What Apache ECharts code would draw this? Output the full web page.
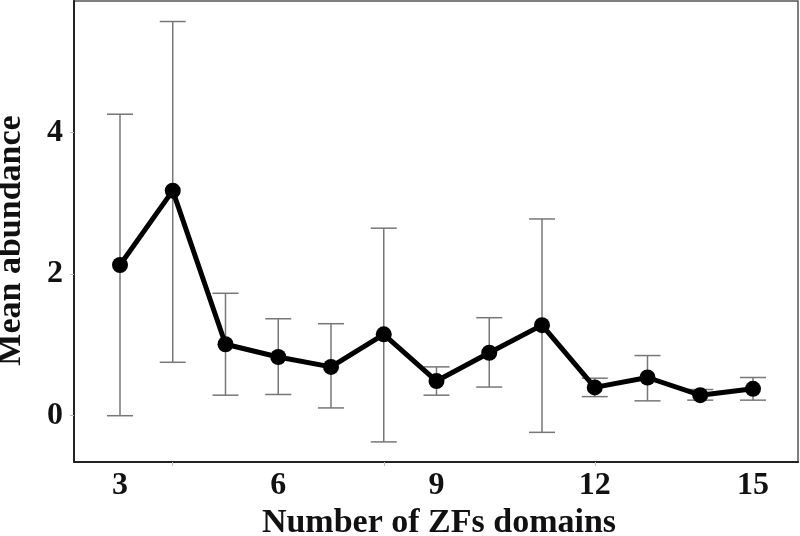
<!DOCTYPE html>
<html>
<head>
<meta charset="utf-8">
<script src="https://cdn.jsdelivr.net/npm/echarts@6/dist/echarts.min.js"></script>
<style>html,body{margin:0;padding:0;background:#fff}#c{width:800px;height:536px}</style>
</head>
<body>
<div id="c"></div>
<script>
const domains = [3, 4, 5, 6, 7, 8, 9, 10, 11, 12, 13, 14, 15];
const meanAbundance = [2.13, 3.18, 1.01, 0.83, 0.69, 1.15, 0.49, 0.89, 1.28, 0.40, 0.54, 0.29, 0.38];
const upperError = [4.26, 5.57, 1.73, 1.37, 1.30, 2.65, 0.69, 1.385, 2.78, 0.53, 0.85, 0.37, 0.54];
const lowerError = [0.0, 0.755, 0.29, 0.30, 0.11, -0.37, 0.29, 0.405, -0.235, 0.27, 0.21, 0.22, 0.22];
const xTickLabels = [3, 6, 9, 12, 15];
const xTickMarks = [4, 8, 12];
const yTickLabels = [0, 2, 4];

const chart = echarts.init(document.getElementById('c'));
const font = '"Liberation Serif", "Times New Roman", serif';
chart.setOption({
  animation: false,
  backgroundColor: '#fff',
  grid: { left: 74, top: 1, right: 2, bottom: 74, outerBoundsMode: 'none', containLabel: false, show: true, borderColor: '#555', borderWidth: 1.5 },
  xAxis: {
    type: 'value', min: 2.128, max: 15.853,
    name: 'Number of ZFs domains', nameLocation: 'middle', nameGap: 44, nameMoveOverlap: false,
    nameTextStyle: { fontFamily: font, fontWeight: 'bold', fontSize: 34, color: '#111', padding: [0, 0, 0, 6] },
    axisLine: { show: true, onZero: false, lineStyle: { color: '#222', width: 2 } },
    axisTick: { show: true, customValues: xTickMarks, length: 4, lineStyle: { color: '#bbb', width: 1 } },
    axisLabel: { customValues: xTickLabels, margin: 8, fontFamily: font, fontWeight: 'bold', fontSize: 32, color: '#111' },
    splitLine: { show: false }
  },
  yAxis: {
    type: 'value', min: -0.654, max: 5.86,
    name: 'Mean abundance', nameLocation: 'middle', nameGap: 46, nameMoveOverlap: false,
    nameTextStyle: { fontFamily: font, fontWeight: 'bold', fontSize: 34, color: '#111', padding: [0, 18, 0, 0] },
    axisLine: { show: true, onZero: false, lineStyle: { color: '#222', width: 2 } },
    axisTick: { show: true, customValues: yTickLabels, length: 4, lineStyle: { color: '#bbb', width: 1 } },
    axisLabel: { customValues: yTickLabels, margin: 11, fontFamily: font, fontWeight: 'bold', fontSize: 32, color: '#111' },
    splitLine: { show: false }
  },
  series: [
    {
      type: 'custom',
      data: domains.map((d, i) => [d, lowerError[i], upperError[i]]),
      renderItem: function (params, api) {
        const x = api.value(0);
        const lo = api.coord([x, api.value(1)]);
        const hi = api.coord([x, api.value(2)]);
        const hw = 13;
        const style = { stroke: '#777', lineWidth: 1.5, fill: null };
        return {
          type: 'group',
          children: [
            { type: 'line', shape: { x1: lo[0], y1: lo[1], x2: hi[0], y2: hi[1] }, style: style },
            { type: 'line', shape: { x1: lo[0] - hw, y1: lo[1], x2: lo[0] + hw, y2: lo[1] }, style: style },
            { type: 'line', shape: { x1: hi[0] - hw, y1: hi[1], x2: hi[0] + hw, y2: hi[1] }, style: style }
          ]
        };
      },
      z: 1
    },
    {
      type: 'line',
      data: domains.map((d, i) => [d, meanAbundance[i]]),
      symbol: 'circle', symbolSize: 16,
      lineStyle: { color: '#000', width: 5 },
      itemStyle: { color: '#000' },
      z: 3
    }
  ]
});
</script>
</body>
</html>
